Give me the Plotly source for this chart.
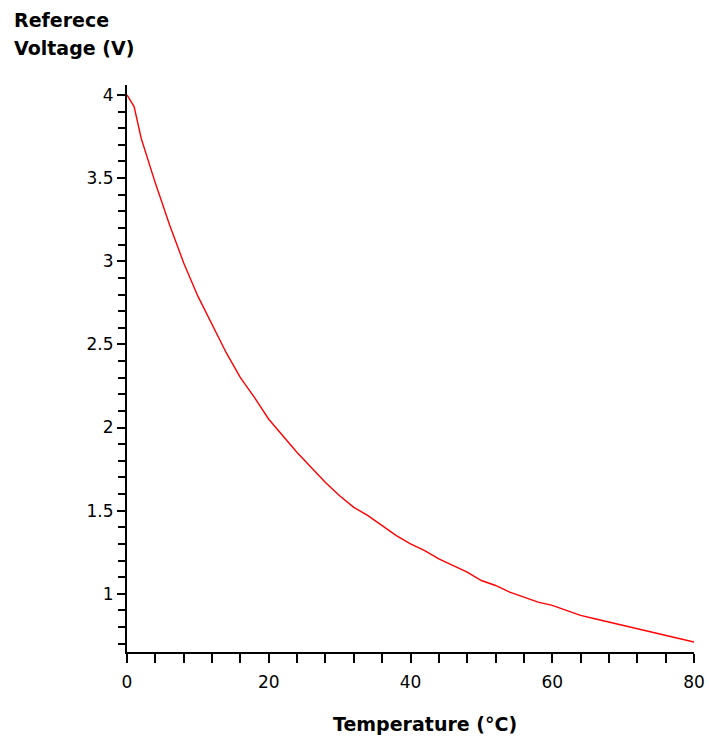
import plotly.graph_objects as go

temperature = [0, 1, 2, 4, 6, 8, 10, 12, 14, 16, 18, 20, 22, 24, 26, 28, 30, 32, 34, 36, 38, 40,
               42, 44, 46, 48, 50, 52, 54, 56, 58, 60, 62, 64, 66, 68, 70, 72, 74, 76, 78, 80]
voltage = [4.00, 3.93, 3.74, 3.47, 3.22, 2.99, 2.79, 2.62, 2.45, 2.30, 2.18, 2.05, 1.95, 1.85,
           1.76, 1.67, 1.59, 1.52, 1.47, 1.41, 1.35, 1.30, 1.26, 1.21, 1.17, 1.13, 1.08, 1.05,
           1.01, 0.98, 0.95, 0.93, 0.90, 0.87, 0.85, 0.83, 0.81, 0.79, 0.77, 0.75, 0.73, 0.71]

x_title = "Temperature (°C)"
y_title_lines = ["Referece", "Voltage (V)"]

fig = go.Figure()
fig.add_trace(go.Scatter(x=temperature, y=voltage, mode="lines",
                         line=dict(color="#ff0000", width=1.4), showlegend=False))

tickfont = dict(family="DejaVu Sans", size=17, color="black")
fig.update_xaxes(range=[0, 80], tick0=0, dtick=20, ticks="outside", ticklen=9, tickwidth=1.5,
                 tickcolor="black", showline=True, linecolor="black", linewidth=2,
                 showgrid=False, zeroline=False, tickfont=tickfont, ticklabelstandoff=5,
                 ticklabeloverflow="allow", automargin=False,
                 minor=dict(dtick=4, ticks="outside", ticklen=9, tickwidth=1.5,
                            tickcolor="black", showgrid=False))
fig.update_yaxes(range=[0.65, 4.06], tick0=1, dtick=0.5, ticks="outside", ticklen=8, tickwidth=1.5,
                 tickcolor="black", showline=True, linecolor="black", linewidth=2,
                 showgrid=False, zeroline=False, tickfont=tickfont, automargin=False,
                 minor=dict(dtick=0.1, tick0=1, ticks="outside", ticklen=7, tickwidth=1.5,
                            tickcolor="black", showgrid=False))

W, H, L, R, T, B = 709, 745, 127, 15, 85, 93
PW, PH = W - L - R, H - T - B

title_font = dict(family="DejaVu Sans", size=19, color="black", weight="bold")
fig.add_annotation(text=x_title, xref="paper", yref="paper", x=(425 - L) / PW,
                   y=-(724 - (H - B)) / PH,
                   xanchor="center", yanchor="middle", showarrow=False, font=title_font)
for i, line in enumerate(y_title_lines):
    fig.add_annotation(text=line, xref="paper", yref="paper", x=(12 - L) / PW,
                       y=1 + (T - 20 - 28 * i) / PH,
                       xanchor="left", yanchor="middle", align="left", showarrow=False,
                       font=title_font)

fig.update_layout(width=W, height=H, margin=dict(l=L, r=R, t=T, b=B),
                  plot_bgcolor="white", paper_bgcolor="white")

fig.write_html("out.html", config={"displayModeBar": False},
               post_script="document.body.style.margin='0px';document.body.style.overflow='hidden';")
